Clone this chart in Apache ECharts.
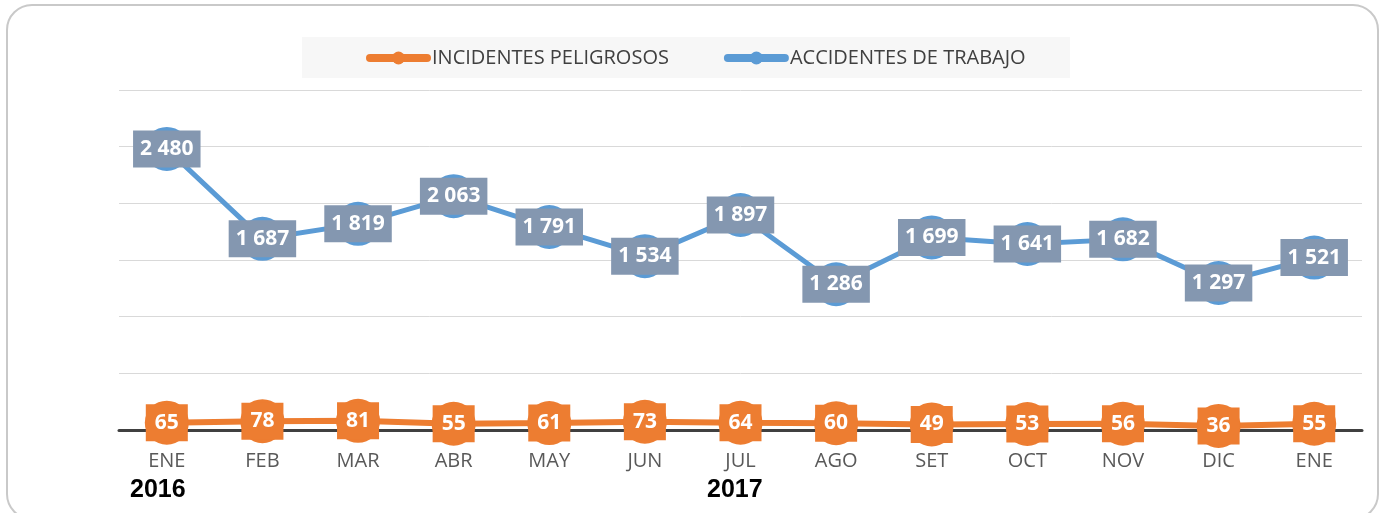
<!DOCTYPE html>
<html>
<head>
<meta charset="utf-8">
<script src="https://cdn.jsdelivr.net/npm/echarts@6/dist/echarts.min.js"></script>
<style>
  html, body { margin: 0; padding: 0; background: #fff; }
  #chart { width: 1385px; height: 513px; }
</style>
</head>
<body>
<div id="chart"></div>
<script>
// datos
var meses = ['ENE', 'FEB', 'MAR', 'ABR', 'MAY', 'JUN', 'JUL', 'AGO', 'SET', 'OCT', 'NOV', 'DIC', 'ENE'];
var incidentes = [65, 78, 81, 55, 61, 73, 64, 60, 49, 53, 56, 36, 55];
var accidentes = [2480, 1687, 1819, 2063, 1791, 1534, 1897, 1286, 1699, 1641, 1682, 1297, 1521];
var anios = ['2016', '2017'];

var FUENTE = '"Open Sans", sans-serif';

function miles(v) {
  return String(v).replace(/\B(?=(\d{3})+(?!\d))/g, ' ');
}

var myChart = echarts.init(document.getElementById('chart'));

var option = {
  animation: false,
  graphic: [
    {
      type: 'rect', z: -10, silent: true,
      shape: { x: 7, y: 5, width: 1371, height: 514, r: 25 },
      style: { fill: '#fff', stroke: '#c9c9c9', lineWidth: 2 }
    },
    {
      type: 'rect', z: -5, silent: true,
      shape: { x: 302, y: 37, width: 768, height: 41 },
      style: { fill: '#f7f7f7' }
    },
    {
      type: 'text', left: 130, top: 478,
      style: { text: anios[0], font: 'bold 25px "Liberation Sans", Arial, sans-serif', fill: '#000' }
    },
    {
      type: 'text', left: 707, top: 478,
      style: { text: anios[1], font: 'bold 25px "Liberation Sans", Arial, sans-serif', fill: '#000' }
    }
  ],
  legend: {
    left: 361,
    top: 43,
    itemWidth: 57,
    itemHeight: 16,
    itemGap: 55,
    lineStyle: { width: 8, cap: 'round' },
    textStyle: { color: '#404040', fontSize: 20, fontFamily: FUENTE },
    data: ['INCIDENTES PELIGROSOS', 'ACCIDENTES DE TRABAJO']
  },
  grid: { left: 119, right: 23, top: 90, bottom: 83 },
  xAxis: {
    type: 'category',
    data: meses,
    boundaryGap: true,
    axisTick: { show: false },
    axisLine: { lineStyle: { color: '#404040', width: 3 } },
    axisLabel: { color: '#595959', fontSize: 20, fontFamily: FUENTE, margin: 21 },
    z: 1
  },
  yAxis: {
    type: 'value',
    min: 0,
    max: 3000,
    interval: 500,
    axisLabel: { show: false },
    axisLine: { show: false },
    axisTick: { show: false },
    splitLine: { lineStyle: { color: '#d9d9d9', width: 1 } }
  },
  series: [
    {
      name: 'INCIDENTES PELIGROSOS',
      type: 'line',
      data: incidentes,
      z: 5,
      symbol: 'circle',
      symbolSize: 44,
      itemStyle: { color: '#ed7d31' },
      lineStyle: { color: '#ed7d31', width: 6 },
      emphasis: { disabled: true },
      label: {
        show: true,
        position: 'inside',
        formatter: function (p) { return miles(p.value); },
        color: '#fff',
        fontFamily: FUENTE,
        fontWeight: 'bold',
        fontSize: 21,
        lineHeight: 21,
        backgroundColor: '#ed7d31',
        padding: [8, 9]
      }
    },
    {
      name: 'ACCIDENTES DE TRABAJO',
      type: 'line',
      data: accidentes,
      z: 4,
      symbol: 'circle',
      symbolSize: 44,
      itemStyle: { color: '#5b9bd5' },
      lineStyle: { color: '#5b9bd5', width: 5 },
      emphasis: { disabled: true },
      label: {
        show: true,
        position: 'inside',
        formatter: function (p) { return miles(p.value); },
        color: '#fff',
        fontFamily: FUENTE,
        fontWeight: 'bold',
        fontSize: 21,
        lineHeight: 21,
        backgroundColor: '#8497b0',
        padding: [8, 7]
      }
    }
  ]
};

myChart.setOption(option);
</script>
</body>
</html>
